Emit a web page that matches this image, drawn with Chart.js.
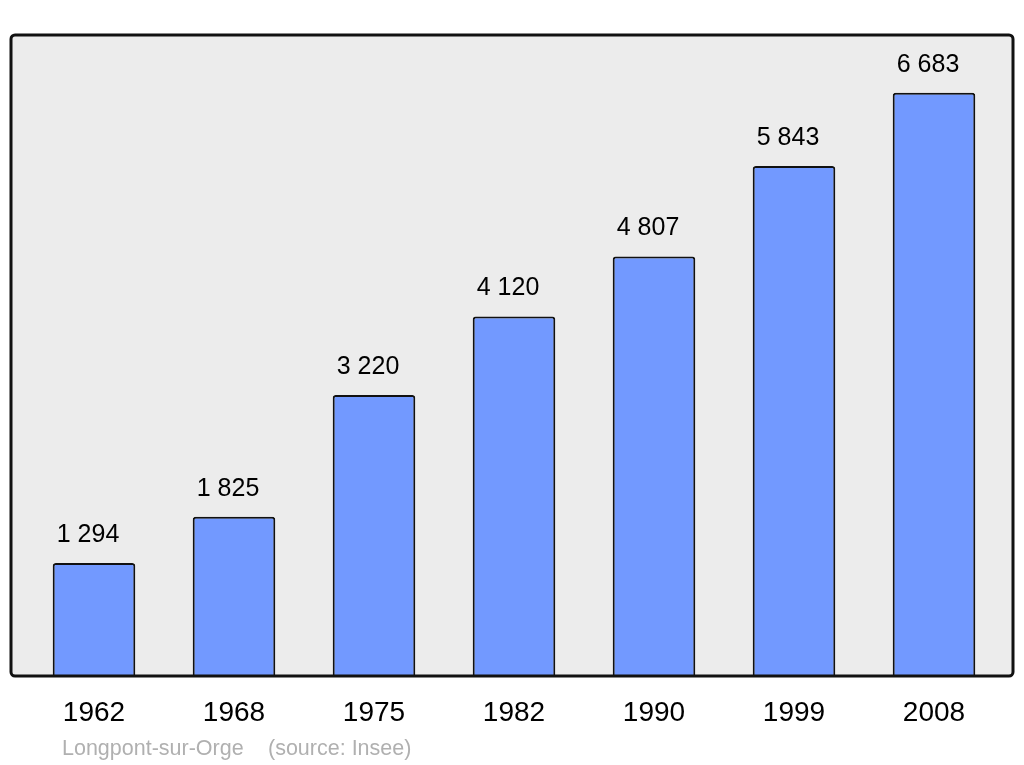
<!DOCTYPE html>
<html><head><meta charset="utf-8">
<script src="https://cdn.jsdelivr.net/npm/chart.js@4/dist/chart.umd.min.js"></script>
<style>html,body{margin:0;padding:0;background:#fff}#w{width:1024px;height:765px}</style>
</head><body><div id="w"><canvas id="c" width="1024" height="765"></canvas></div>
<script>
const years = ["1962","1968","1975","1982","1990","1999","2008"];
const population = [1294,1825,3220,4120,4807,5843,6683];
const valueLabels = ["1 294","1 825","3 220","4 120","4 807","5 843","6 683"];
const yMax = 7345;
const caption = "Longpont-sur-Orge";
const source = "(source: Insee)";

const FONT = '"Liberation Sans", Arial, sans-serif';

const framePlugin = {
  id: 'frame',
  beforeDatasetsDraw(chart) {
    const {ctx, chartArea: a} = chart;
    ctx.save();
    ctx.fillStyle = '#ececec';
    roundRect(ctx, a.left - 13, a.top, a.right - a.left + 22, a.bottom - a.top, 4);
    ctx.fill();
    ctx.restore();
  },
  afterDatasetsDraw(chart) {
    const {ctx, chartArea: a} = chart;
    ctx.save();
    ctx.strokeStyle = '#111';
    ctx.lineWidth = 3;
    roundRect(ctx, a.left - 13, a.top, a.right - a.left + 22, a.bottom - a.top, 4);
    ctx.stroke();
    // value labels
    const meta = chart.getDatasetMeta(0);
    ctx.fillStyle = '#000';
    ctx.font = '25px ' + FONT;
    ctx.textAlign = 'center';
    ctx.textBaseline = 'alphabetic';
    meta.data.forEach((bar, i) => {
      ctx.fillText(valueLabels[i], bar.x - 6, bar.y - 21);
    });
    // caption
    ctx.fillStyle = '#b0b0b0';
    ctx.font = '21.5px ' + FONT;
    ctx.textAlign = 'left';
    ctx.fillText(caption, a.left + 38, 755);
    ctx.fillText(source, a.left + 244, 755);
    ctx.restore();
  }
};
function roundRect(ctx, x, y, w, h, r) {
  ctx.beginPath();
  ctx.moveTo(x + r, y);
  ctx.lineTo(x + w - r, y); ctx.arcTo(x + w, y, x + w, y + r, r);
  ctx.lineTo(x + w, y + h - r); ctx.arcTo(x + w, y + h, x + w - r, y + h, r);
  ctx.lineTo(x + r, y + h); ctx.arcTo(x, y + h, x, y + h - r, r);
  ctx.lineTo(x, y + r); ctx.arcTo(x, y, x + r, y, r);
  ctx.closePath();
}

new Chart(document.getElementById('c'), {
  type: 'bar',
  data: {
    labels: years,
    datasets: [{
      data: population,
      backgroundColor: '#7299ff',
      borderColor: '#111',
      borderWidth: 2,
      borderRadius: {topLeft: 3, topRight: 3, bottomLeft: 0, bottomRight: 0},
      borderSkipped: 'bottom',
      barPercentage: 0.59,
      categoryPercentage: 1.0
    }]
  },
  options: {
    responsive: false,
    animation: false,
    devicePixelRatio: 1,
    layout: {padding: {left: 24, right: 20, top: 35, bottom: 0}},
    plugins: {legend: {display: false}, tooltip: {enabled: false}, title: {display: false}},
    scales: {
      x: {
        offset: true,
        border: {display: false},
        grid: {display: false, drawTicks: false},
        ticks: {color: '#000', font: {family: FONT, size: 28}, padding: 20, maxRotation: 0},
        afterFit(s) { s.height = 89; }
      },
      y: {
        display: false,
        min: 0, max: yMax
      }
    }
  },
  plugins: [framePlugin]
});
</script>
</body></html>
